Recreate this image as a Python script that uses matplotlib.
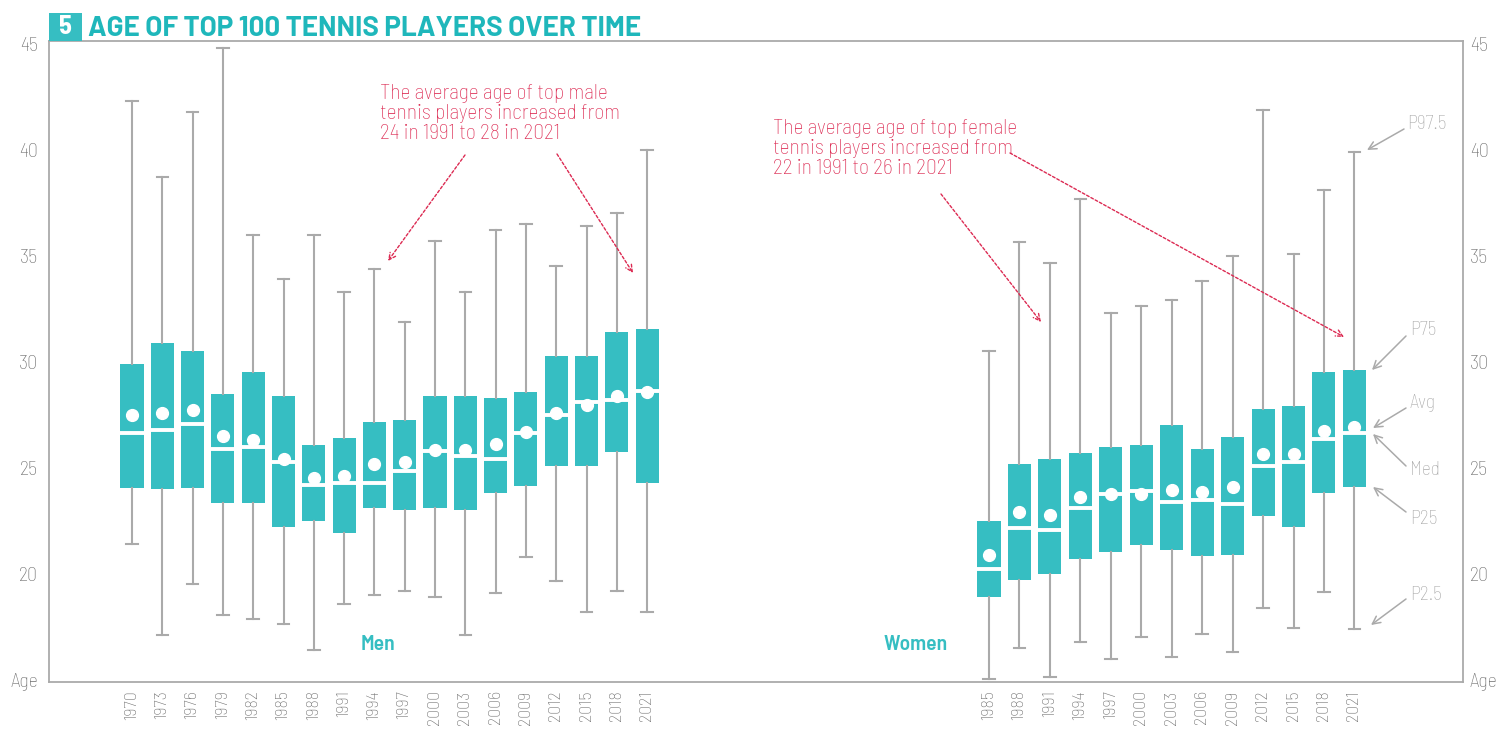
import matplotlib
matplotlib.use("Agg")
import matplotlib.pyplot as plt
from matplotlib.patches import Rectangle
import numpy as np

# ---------------- data ----------------
men_years = [1970, 1973, 1976, 1979, 1982, 1985, 1988, 1991, 1994, 1997, 2000, 2003, 2006, 2009, 2012, 2015, 2018, 2021]
men_p2_5 = [21.5, 17.2, 19.6, 18.15, 17.95, 17.75, 16.5, 18.7, 19.1, 19.3, 19.0, 17.2, 19.2, 20.9, 19.75, 18.3, 19.3, 18.3]
men_p25 = [24.15, 24.1, 24.15, 23.45, 23.45, 22.3, 22.6, 22.05, 23.2, 23.1, 23.2, 23.1, 23.9, 24.25, 25.2, 25.2, 25.85, 24.4]
men_med = [26.75, 26.9, 27.15, 26.0, 26.1, 25.4, 24.3, 24.4, 24.4, 24.95, 25.9, 25.65, 25.5, 26.75, 27.6, 28.2, 28.3, 28.75]
men_avg = [27.6, 27.7, 27.85, 26.6, 26.4, 25.5, 24.6, 24.7, 25.3, 25.4, 25.95, 25.95, 26.25, 26.8, 27.7, 28.05, 28.5, 28.7]
men_p75 = [30.0, 31.0, 30.6, 28.6, 29.6, 28.5, 26.2, 26.5, 27.25, 27.35, 28.5, 28.5, 28.4, 28.7, 30.4, 30.4, 31.5, 31.65]
men_p97_5 = [42.4, 38.8, 41.9, 44.9, 36.1, 34.0, 36.1, 33.4, 34.5, 32.0, 35.8, 33.4, 36.3, 36.6, 34.6, 36.5, 37.1, 40.1]

women_years = [1985, 1988, 1991, 1994, 1997, 2000, 2003, 2006, 2009, 2012, 2015, 2018, 2021]
women_p2_5 = [15.15, 16.6, 15.25, 16.9, 16.1, 17.1, 16.2, 17.25, 16.4, 18.5, 17.55, 19.25, 17.5]
women_p25 = [19.0, 19.8, 20.1, 20.8, 21.15, 21.45, 21.25, 20.95, 21.0, 22.85, 22.3, 23.9, 24.2]
women_med = [20.35, 22.25, 22.15, 23.2, 23.85, 24.0, 23.5, 23.6, 23.4, 25.2, 25.4, 26.45, 26.75]
women_avg = [21.0, 23.0, 22.9, 23.75, 23.85, 23.85, 24.05, 23.95, 24.2, 25.75, 25.75, 26.85, 27.05]
women_p75 = [22.6, 25.3, 25.5, 25.8, 26.1, 26.2, 27.1, 26.0, 26.55, 27.9, 28.0, 29.6, 29.7]
women_p97_5 = [30.6, 35.75, 34.75, 37.8, 32.4, 32.75, 33.0, 33.9, 35.1, 42.0, 35.2, 38.2, 40.0]

y_ticks = [15, 20, 25, 30, 35, 40, 45]
y_ticklabels = ["Age", "20", "25", "30", "35", "40", "45"]

title_num = "5"
title_text = "AGE OF TOP 100 TENNIS PLAYERS OVER TIME"
men_note = "The average age of top male\ntennis players increased from\n24 in 1991 to 28 in 2021"
women_note = "The average age of top female\ntennis players increased from\n22 in 1991 to 26 in 2021"

# ---------------- style ----------------
TEAL = "#36bec2"
TITLE_TEAL = "#1fb7bb"
GRAY = "#aaaaaa"
TICK_GRAY = "#6e6e6e"
RED = "#dc2a52"
SEMI = ["Barlow Semi Condensed", "Roboto Condensed", "DejaVu Sans"]
WIDE = ["Barlow", "Roboto", "DejaVu Sans"]
plt.rcParams["font.family"] = SEMI

W, H, DPI = 1512, 729, 100
fig = plt.figure(figsize=(W / DPI, H / DPI), dpi=DPI)

# axes in pixel geometry
ax_l, ax_r, ax_t, ax_b = 49, 1463, 41, 682
ax = fig.add_axes([ax_l / W, (H - ax_b) / H, (ax_r - ax_l) / W, (ax_b - ax_t) / H])

spacing = 30.3  # px per unit
x_left = -(132 - ax_l) / spacing
x_right = x_left + (ax_r - ax_l) / spacing
women_start = (989 - ax_l) / spacing + x_left

men_pos = np.arange(len(men_years), dtype=float)
women_pos = women_start + np.arange(len(women_years), dtype=float) * 1.005


def make_stats(years, lo, q1, med, mean, q3, hi):
    return [dict(label=str(y), whislo=a, q1=b, med=c, mean=d, q3=e, whishi=f, fliers=[])
            for y, a, b, c, d, e, f in zip(years, lo, q1, med, mean, q3, hi)]


stats = (make_stats(men_years, men_p2_5, men_p25, men_med, men_avg, men_p75, men_p97_5)
         + make_stats(women_years, women_p2_5, women_p25, women_med, women_avg, women_p75, women_p97_5))
positions = list(men_pos) + list(women_pos)

ax.bxp(stats, positions=positions, widths=0.76, patch_artist=True, showmeans=True,
       showfliers=False, capwidths=0.38,
       boxprops=dict(facecolor=TEAL, edgecolor="none", linewidth=0),
       medianprops=dict(color="white", linewidth=2.8, solid_capstyle="butt"),
       meanprops=dict(marker="o", markerfacecolor="white", markeredgecolor="white", markersize=8.5),
       whiskerprops=dict(color=GRAY, linewidth=1.5),
       capprops=dict(color=GRAY, linewidth=1.5))

ylim = (15, 15 + (ax_b - ax_t) / 21.2)
ax.set_xlim(x_left, x_right)
ax.set_ylim(*ylim)
ax.set_yticks(y_ticks)
ax.set_yticklabels(y_ticklabels)
ax.set_xticks(positions)
ax.set_xticklabels([str(y) for y in men_years + women_years], rotation=90)
ax.tick_params(axis="both", length=0, colors=TICK_GRAY)
ax.tick_params(axis="y", labelsize=14.5, pad=8)
ax.tick_params(axis="x", labelsize=13, pad=6)
for s in ax.spines.values():
    s.set_color(GRAY)
    s.set_linewidth(1.3)

ax2 = ax.twinx()
ax2.set_ylim(*ylim)
ax2.set_yticks(y_ticks)
ax2.set_yticklabels(y_ticklabels)
ax2.tick_params(axis="y", length=0, colors=TICK_GRAY, labelsize=14.5, pad=5)
for s in ax2.spines.values():
    s.set_visible(False)

for lab in ax.get_xticklabels() + ax.get_yticklabels() + ax2.get_yticklabels():
    lab.set_fontweight("light")
    lab.set_family(SEMI)
for lab in ax.get_yticklabels() + ax2.get_yticklabels():
    lab.set_verticalalignment("center")


def P(px, py):
    return (px, H - py)


# title
fig.patches.append(Rectangle(P(ax_l, ax_t), 33, 28, transform=None, facecolor=TEAL,
                             edgecolor="none", figure=fig))
fig.text(65.5 / W, (H - 27.5) / H, title_num, color="white", fontsize=19, fontweight="bold",
         ha="center", va="center", family=SEMI)
fig.text(88 / W, (H - 28) / H, title_text, color=TITLE_TEAL, fontsize=20, fontweight="bold",
         ha="left", va="center", family=WIDE)

# group labels
fig.text(378 / W, (H - 644) / H, "Men", color=TEAL, fontsize=15.5, fontweight="semibold",
         ha="center", va="center", family=SEMI)
fig.text(916 / W, (H - 644) / H, "Women", color=TEAL, fontsize=15.5, fontweight="semibold",
         ha="center", va="center", family=SEMI)

# notes
fig.text(380 / W, (H - 84) / H, men_note, color=RED, fontsize=15.5, fontweight="light",
         ha="left", va="top", family=SEMI, linespacing=1.07)
fig.text(773 / W, (H - 119) / H, women_note, color=RED, fontsize=15.5, fontweight="light",
         ha="left", va="top", family=SEMI, linespacing=1.07)

red_arrow = dict(arrowstyle="->", color=RED, lw=1.0, linestyle=(0, (2, 1.5)), shrinkA=0, shrinkB=0,
                 mutation_scale=12)
for (x0, y0), (x1, y1) in [((465, 155), (388, 261)), ((557, 154), (633, 273)),
                           ((941, 194), (1041, 322)), ((1010, 153), (1344, 337))]:
    ax.annotate("", xy=P(x1, y1), xycoords="figure pixels", xytext=P(x0, y0),
                textcoords="figure pixels", arrowprops=red_arrow)

# legend keys
gray_arrow = dict(arrowstyle="->", color=GRAY, lw=1.1, shrinkA=0, shrinkB=0, mutation_scale=14)
keys = [("P97.5", (1407, 124), (1404, 129), (1367, 150)),
        ("P75", (1410, 330), (1406, 336), (1372, 370)),
        ("Avg", (1410, 403), (1406, 408), (1373, 428)),
        ("Med", (1410, 470), (1406, 466), (1373, 434)),
        ("P25", (1410, 519), (1406, 512), (1373, 487)),
        ("P2.5", (1410, 595), (1406, 599), (1371, 625))]
for txt, tp, a0, a1 in keys:
    fig.text(tp[0] / W, (H - tp[1]) / H, txt, color=GRAY, fontsize=14, fontweight="light",
             ha="left", va="center", family=SEMI)
    ax.annotate("", xy=P(*a1), xycoords="figure pixels", xytext=P(*a0),
                textcoords="figure pixels", arrowprops=gray_arrow)

fig.savefig("out.png", dpi=DPI)
